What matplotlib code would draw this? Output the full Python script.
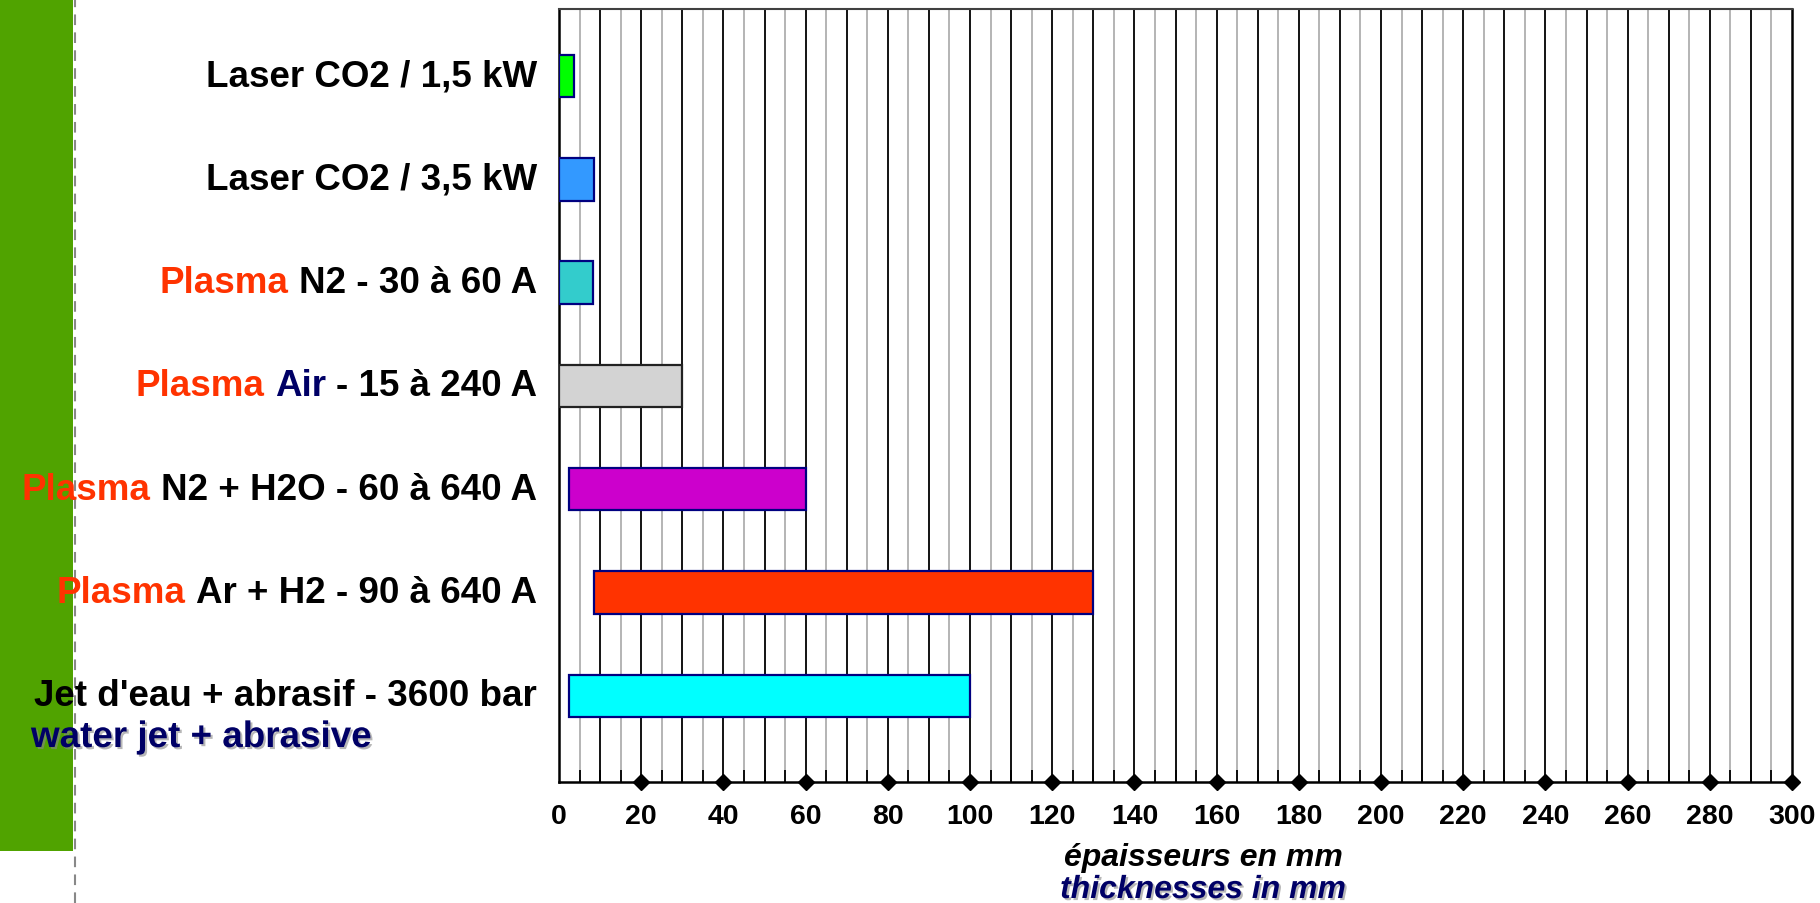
import matplotlib
matplotlib.use("Agg")
import matplotlib.pyplot as plt
import matplotlib.patheffects as pe
import matplotlib.transforms as mtransforms
from matplotlib.patches import Rectangle
from matplotlib.lines import Line2D
from matplotlib.ticker import MultipleLocator

plt.rcParams['font.family'] = ['Liberation Sans', 'DejaVu Sans']

# ---------------- data ----------------
RED = '#FF3300'
NAVY = '#000066'
label_parts = [
    [("Laser CO2 / 1,5 kW", "black")],
    [("Laser CO2 / 3,5 kW", "black")],
    [("Plasma", RED), ("N2 - 30 à 60 A", "black")],
    [("Plasma", RED), ("Air", NAVY), ("- 15 à 240 A", "black")],
    [("Plasma", RED), ("N2 + H2O - 60 à 640 A", "black")],
    [("Plasma", RED), ("Ar + H2 - 90 à 640 A", "black")],
    [("Jet d'eau + abrasif - 3600 bar", "black")],
]
sub_label = "water jet + abrasive"
bar_start = [0, 0, 0, 0, 2.5, 8.5, 2.5]
bar_end = [3.7, 8.5, 8.3, 30, 60, 130, 100]
bar_colors = ['#00FF00', '#3399FF', '#33CCCC', '#D3D3D3', '#CC00CC', '#FF3300', '#00FFFF']
bar_edges = ['#000080', '#000080', '#000080', '#222222', '#000080', '#000080', '#000080']
xticks = list(range(0, 301, 20))
xlabel_fr = "épaisseurs en mm"
xlabel_en = "thicknesses in mm"

# ---------------- figure ----------------
W, H = 1820, 904
fig = plt.figure(figsize=(W / 100, H / 100), dpi=100)
fig.patch.set_facecolor('white')

# green side band + dashed separator (drawn below everything else)
fig.patches.append(Rectangle((0, 1 - 852 / H), 73 / W, 852 / H, transform=fig.transFigure,
                             facecolor='#50A300', edgecolor='none', zorder=-2))
fig.lines.append(Line2D([75 / W, 75 / W], [0, 1], transform=fig.transFigure, color='#888888',
                        lw=1.5, dashes=(5.1, 3.5), zorder=-1))

ax = fig.add_axes([559 / W, 1 - 783 / H, (1792 - 559) / W, (783 - 10) / H])
ax.patch.set_alpha(0)
n = len(label_parts)
ypos = list(range(n))
ax.set_xlim(0, 300)
ax.set_ylim(6.834, -0.649)

# grid every 5 mm (dark at multiples of 10)
for xv in range(5, 300, 5):
    if xv % 10 == 0:
        ax.axvline(xv, color='black', lw=1.3, zorder=0.5)
    else:
        ax.axvline(xv, color='#A8A8A8', lw=1.2, zorder=0.5)

widths = [e - s for s, e in zip(bar_start, bar_end)]
ax.barh(ypos, widths, left=bar_start, height=0.41, color=bar_colors,
        edgecolor=bar_edges, linewidth=1.6, zorder=3)

# diamonds along the bottom axis
ax.plot(xticks[1:], [0] * (len(xticks) - 1), linestyle='none', marker='D', ms=8.5,
        color='black', transform=ax.get_xaxis_transform(), clip_on=False, zorder=5)

for side, sp in ax.spines.items():
    sp.set_color('black')
    sp.set_linewidth(1.8)
ax.spines['top'].set_color('#404040')
ax.spines['top'].set_linewidth(1.5)

ax.set_yticks([])
ax.set_xticks(xticks)
tick_font = dict(family=['Liberation Sans', 'DejaVu Sans'], size=20.5, weight='bold')
ax.set_xticklabels([str(t) for t in xticks], fontdict=tick_font)
ax.tick_params(axis='x', which='major', length=0, pad=15)
ax.xaxis.set_minor_locator(MultipleLocator(5))
ax.tick_params(axis='x', which='minor', direction='in', length=9, width=1.3, color='black')

# category labels (multi-coloured)
FS = 26.5
space = 0.278 * FS
trans = mtransforms.blended_transform_factory(fig.transFigure, ax.transData)
label_x = 537 / W
for i, parts in enumerate(label_parts):
    last_txt, last_col = parts[-1]
    prev = fig.text(label_x, ypos[i], last_txt, transform=trans, ha='right', va='center',
                    color=last_col, fontsize=FS, fontweight='bold', zorder=4)
    for txt, col in reversed(parts[:-1]):
        prev = ax.annotate(txt, xy=(0, 0), xycoords=prev, xytext=(-space, 0),
                           textcoords='offset points', ha='right', va='bottom',
                           color=col, fontsize=FS, fontweight='bold', zorder=4,
                           annotation_clip=False)

shadow = [pe.withSimplePatchShadow(offset=(1.5, -1.5), shadow_rgbFace='#888888', alpha=0.6)]
sub_trans = mtransforms.offset_copy(trans, fig=fig, x=0, y=-30, units='points')
fig.text(31 / W, ypos[-1], sub_label, transform=sub_trans, ha='left', va='center',
         color=NAVY, fontsize=FS, fontweight='bold', path_effects=shadow, zorder=4)

fig.text(1203 / W, 1 - 866 / H, xlabel_fr, ha='center', va='baseline', color='black',
         fontsize=23, fontweight='bold', fontstyle='italic')
fig.text(1203 / W, 1 - 899 / H, xlabel_en, ha='center', va='baseline', color=NAVY,
         fontsize=23, fontweight='bold', fontstyle='italic', path_effects=shadow)

fig.savefig('out.png', dpi=100, facecolor='white')
